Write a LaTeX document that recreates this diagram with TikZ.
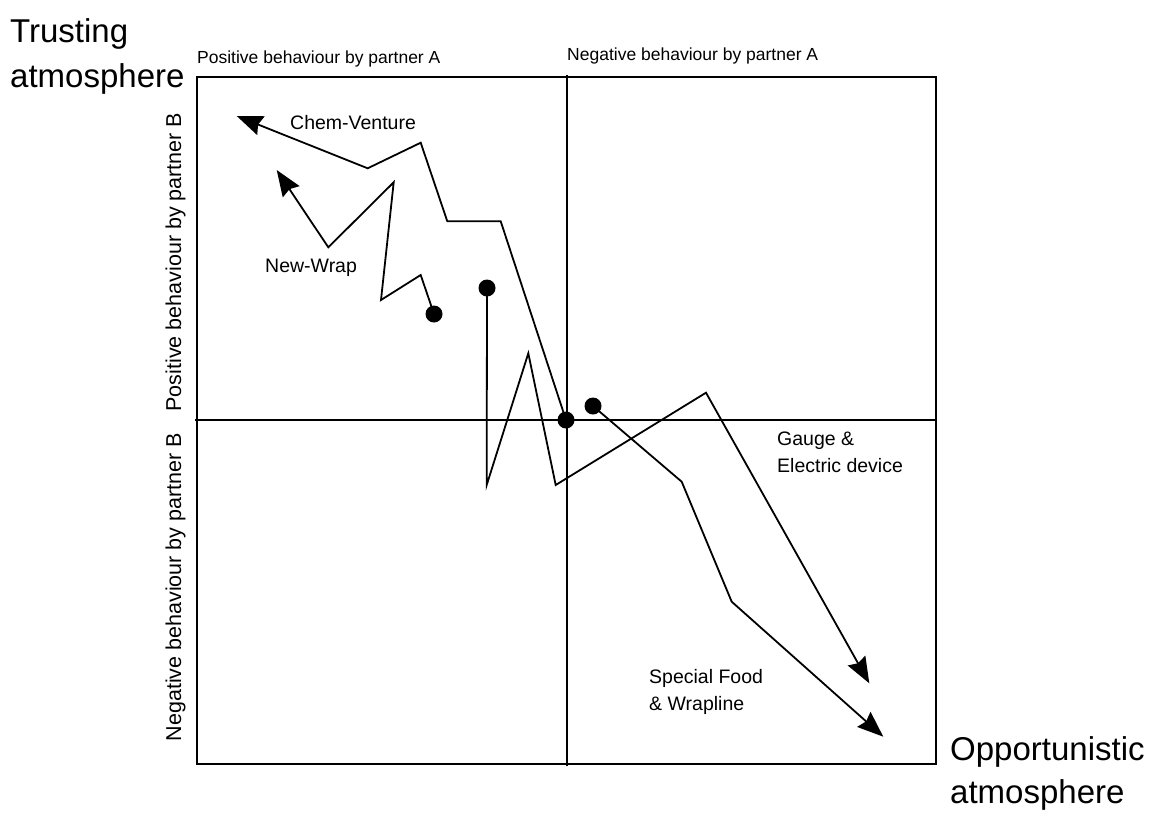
\documentclass[tikz,border=0pt]{standalone}
\usepackage{fontspec}
\setmainfont{Liberation Sans}
\usetikzlibrary{arrows.meta}
\begin{document}
\begin{tikzpicture}[x=1pt,y=-1pt,
  frame/.style={line width=2pt},
  trail/.style={line width=1.8pt, line join=miter},
  trailend/.style={trail, -{Stealth[length=26pt,width=20pt,inset=3pt]}},
  startdot/.style={circle, fill=black, inner sep=0pt, minimum size=17pt},
  biglabel/.style={font=\fontsize{33}{45}\selectfont, align=left, inner sep=0pt},
  axislabel/.style={font=\fontsize{17.5}{21}\selectfont, inner sep=0pt},
  sidelabel/.style={font=\fontsize{21.5}{24}\selectfont, inner sep=0pt, rotate=90},
  caselabel/.style={font=\fontsize{19.5}{27}\selectfont, align=left, inner sep=0pt, anchor=west}]
\useasboundingbox (0,0) rectangle (1165,812);

% quadrant frame
\draw[frame] (197,77) rectangle (936,764);
\draw[frame] (567,75) -- (567,766);
\draw[frame] (195,420) -- (936,420);

% corner titles (anchored at the baseline of their last line)
\node[biglabel, anchor=base west] (trust) at (10,87) {Trusting\\atmosphere};
\node[biglabel, anchor=base west, font=\fontsize{33}{43}\selectfont] (opp) at (950,803) {Opportunistic\\atmosphere};

% axis labels
\node[axislabel, anchor=base west] (posA) at (197,63) {Positive behaviour by partner A};
\node[axislabel, anchor=base west] (negA) at (567,60) {Negative behaviour by partner A};
\node[sidelabel, anchor=base] (posB) at (181,262) {Positive behaviour by partner B};
\node[sidelabel, anchor=base] (negB) at (181,587) {Negative behaviour by partner B};

% case labels
\node[caselabel] (chem) at (290,123) {Chem-Venture};
\node[caselabel] (wrap) at (265,268) {New-Wrap};
\node[caselabel] (gauge) at (777,452) {Gauge \&\\Electric device};
\node[caselabel] (food) at (649,692) {Special Food\\\& Wrapline};

% starting points
\node[startdot] (d1) at (566,420) {};
\node[startdot] (d2) at (434,314) {};
\node[startdot] (d3) at (487,288) {};
\node[startdot] (d4) at (593,406) {};

% Chem-Venture trail
\coordinate (c1) at (500.7,221.3);
\coordinate (c2) at (447.3,221.3);
\coordinate (c3) at (420.7,142.7);
\coordinate (c4) at (367.7,168.3);
\coordinate (ctip) at (236.7,116);
\draw[trailend] (d1.center) -- (c1) -- (c2) -- (c3) -- (c4) -- (ctip);

% New-Wrap trail
\coordinate (w1) at (420.7,275);
\coordinate (w2) at (381,300);
\coordinate (w3) at (393.7,182.3);
\coordinate (w4) at (328.3,247.3);
\coordinate (wtip) at (276.7,170);
\draw[trailend] (d2.center) -- (w1) -- (w2) -- (w3) -- (w4) -- (wtip);

% Gauge & Electric device trail
\coordinate (g1) at (486.7,485);
\coordinate (g2) at (528.3,353.3);
\coordinate (g3) at (555.7,485);
\coordinate (g4) at (706,392.7);
\coordinate (gtip) at (869.3,683.3);
\draw[trailend] (d3.center) -- (g1) -- (g2) -- (g3) -- (g4) -- (gtip);

% Special Food & Wrapline trail
\coordinate (f1) at (681.7,481.7);
\coordinate (f2) at (731.7,601.7);
\coordinate (ftip) at (883.3,736.7);
\draw[trailend] (d4.center) -- (f1) -- (f2) -- (ftip);
\end{tikzpicture}
\end{document}
